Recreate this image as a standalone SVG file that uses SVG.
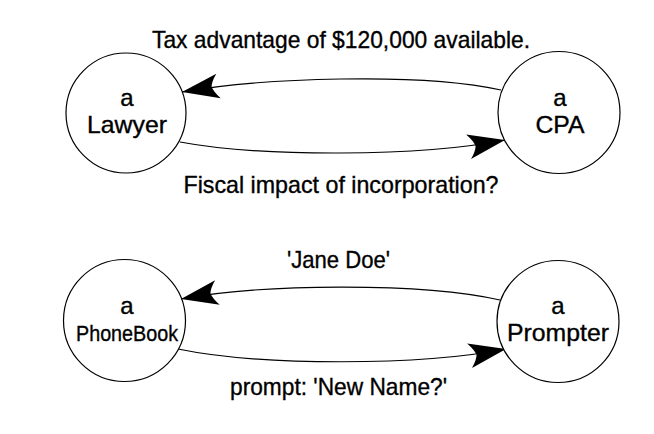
<svg xmlns="http://www.w3.org/2000/svg" width="654" height="434" viewBox="0 0 654 434">
  <style>
    .node { fill: #ffffff; stroke: #000000; stroke-width: 1.2; }
    .conn { fill: none; stroke: #000000; stroke-width: 1.2; marker-end: url(#barb); }
    text { font-family: "Liberation Sans", Arial, Helvetica, sans-serif; fill: #000000; stroke: #000000; stroke-width: 0.35; text-anchor: middle; }
    .nl { font-size: 24px; }
    .el { font-size: 24px; }
  </style>
  <defs>
    <marker id="barb" markerUnits="userSpaceOnUse" orient="auto" refX="0" refY="0" markerWidth="60" markerHeight="40" viewBox="-40 -20 60 40" overflow="visible">
      <path d="M0,0 L-37,-13 Q-31,-5 -30,0 Q-31,5 -37,12 Z" fill="#000000"/>
    </marker>
  </defs>
  <rect width="654" height="434" fill="#ffffff"/>

  <g id="connectors">
    <path class="conn" d="M501,90 C420,72 260,78 182,92"/>
    <path class="conn" d="M180,142 C260,157 420,157 505,140"/>
    <path class="conn" d="M500,300 C420,282 260,284 181,299"/>
    <path class="conn" d="M178,349 C260,366 420,366 506,349"/>
  </g>

  <g id="label-tax">
    <text class="el" x="341" y="48" textLength="378" lengthAdjust="spacingAndGlyphs">Tax advantage of $120,000 available.</text>
  </g>
  <g id="label-fiscal">
    <text class="el" x="341" y="193" textLength="315" lengthAdjust="spacingAndGlyphs">Fiscal impact of incorporation?</text>
  </g>
  <g id="label-jane">
    <text class="el" x="338.5" y="268" textLength="103" lengthAdjust="spacingAndGlyphs">'Jane Doe'</text>
  </g>
  <g id="label-prompt">
    <text class="el" x="338.5" y="395" textLength="217" lengthAdjust="spacingAndGlyphs">prompt: 'New Name?'</text>
  </g>

  <g id="node-lawyer">
    <circle class="node" cx="126" cy="113" r="60"/>
    <text class="nl"><tspan x="127" y="106">a</tspan><tspan x="127" y="133" textLength="80" lengthAdjust="spacingAndGlyphs">Lawyer</tspan></text>
  </g>
  <g id="node-cpa">
    <circle class="node" cx="559" cy="112.5" r="61"/>
    <text class="nl"><tspan x="560" y="106">a</tspan><tspan x="560" y="133" textLength="49" lengthAdjust="spacingAndGlyphs">CPA</tspan></text>
  </g>
  <g id="node-phonebook">
    <circle class="node" cx="124.5" cy="320.5" r="61"/>
    <text class="nl"><tspan x="127" y="314">a</tspan><tspan x="127" y="341" style="font-size:22px" textLength="102" lengthAdjust="spacingAndGlyphs">PhoneBook</tspan></text>
  </g>
  <g id="node-prompter">
    <circle class="node" cx="558" cy="321.5" r="61"/>
    <text class="nl"><tspan x="558" y="314">a</tspan><tspan x="558" y="341" textLength="102" lengthAdjust="spacingAndGlyphs">Prompter</tspan></text>
  </g>
</svg>
